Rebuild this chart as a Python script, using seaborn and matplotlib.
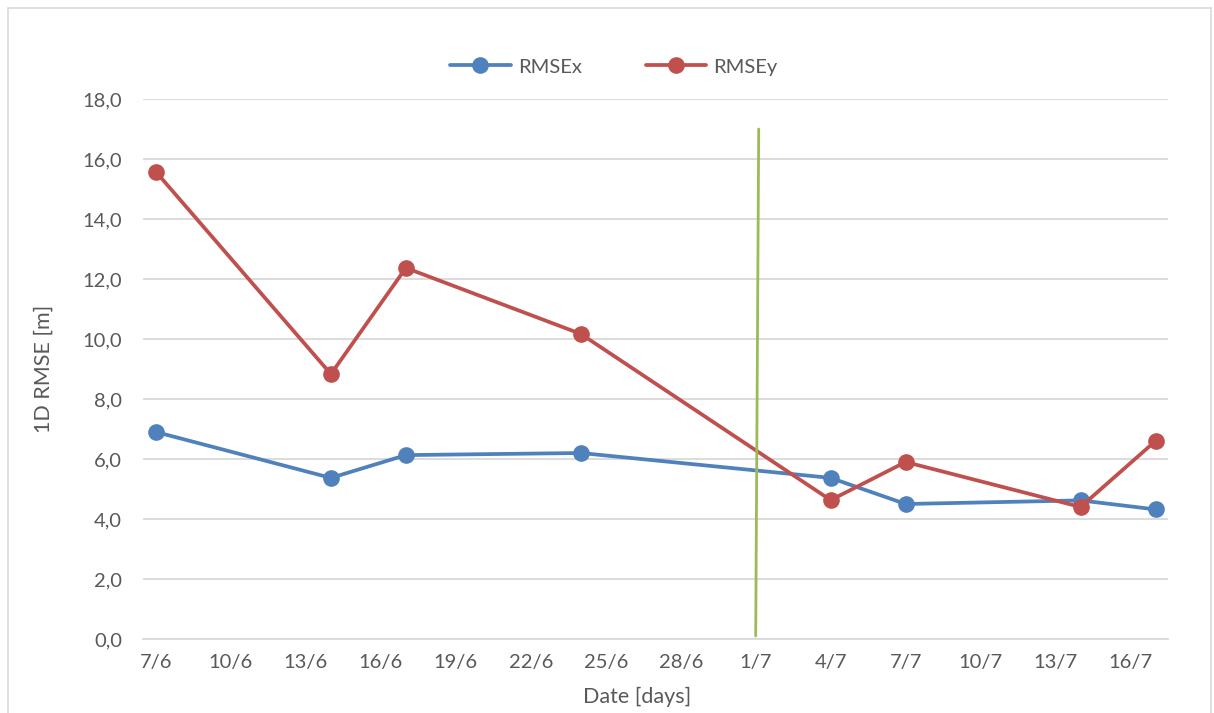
import numpy as np
import pandas as pd
import matplotlib
matplotlib.use("Agg")
import matplotlib.pyplot as plt
from matplotlib.ticker import FuncFormatter
from matplotlib.patches import Rectangle
import seaborn as sns

# Survey dates (day/month) and per-axis 1D RMSE in metres
dates = ["7/6", "14/6", "17/6", "24/6", "4/7", "7/7", "14/7", "17/7"]
rmse_x = [6.90, 5.37, 6.13, 6.20, 5.37, 4.50, 4.62, 4.32]
rmse_y = [15.57, 8.83, 12.37, 10.17, 4.63, 5.90, 4.40, 6.60]
series_names = ["RMSEx", "RMSEy"]
series_colors = ["#4F81BD", "#C0504D"]

# Vertical marker line separating the two periods
split_dates = ["1/7", "1/7"]
split_offsets_days = [0.0, 0.12]
split_values = [0.1, 17.0]

tick_start, tick_end, tick_step_days = "7/6", "16/7", 3
YEAR = 2018


def to_date(s):
    d, m = s.split("/")
    return pd.Timestamp(year=YEAR, month=int(m), day=int(d))


df = pd.DataFrame({
    "date": [to_date(d) for d in dates] * 2,
    "value": rmse_x + rmse_y,
    "series": [series_names[0]] * len(dates) + [series_names[1]] * len(dates),
})

sns.set_theme(style="white")
plt.rcParams["font.family"] = ["Lato", "DejaVu Sans"]
text_color = "#595959"
grid_color = "#D9D9D9"

fig = plt.figure(figsize=(12.14, 7.13), dpi=100)
ax = fig.add_axes([143 / 1214, 1 - 639 / 713, (1168 - 143) / 1214, (639 - 99) / 713])

# Chart frame
fig.patches.append(Rectangle((8 / 1214, -0.01), 1203 / 1214, 1 - 8 / 713 + 0.01,
                             transform=fig.transFigure, fill=False,
                             edgecolor=grid_color, linewidth=1.2))

sns.lineplot(data=df, x="date", y="value", hue="series", palette=series_colors,
             hue_order=series_names, marker="o", markersize=12, markeredgewidth=0,
             linewidth=2.7, ax=ax, zorder=3)

split_x = [to_date(d) + pd.Timedelta(days=o) for d, o in zip(split_dates, split_offsets_days)]
ax.plot(split_x, split_values, color="#9BBB59", linewidth=2.0, zorder=4)

# Axes limits and ticks
t0 = to_date(tick_start)
ax.set_xlim(t0 - pd.Timedelta(days=0.52), t0 + pd.Timedelta(days=40.5))
ax.set_ylim(0, 18)
ax.set_yticks(np.arange(0, 18.1, 2))
ax.yaxis.set_major_formatter(FuncFormatter(lambda v, p: f"{v:.1f}".replace(".", ",")))
ticks = pd.date_range(t0, to_date(tick_end), freq=f"{tick_step_days}D")
ax.set_xticks(ticks)
ax.set_xticklabels([f"{t.day}/{t.month}" for t in ticks])

ax.grid(axis="y", color=grid_color, linewidth=1.3, zorder=0)
ax.set_axisbelow(True)
for side in ["top", "right", "left"]:
    ax.spines[side].set_visible(False)
ax.spines["bottom"].set_color(grid_color)
ax.spines["bottom"].set_linewidth(1.3)
ax.tick_params(axis="y", length=0, pad=15, labelsize=14.5, labelcolor=text_color)
ax.tick_params(axis="x", length=0, pad=11, labelsize=14.5, labelcolor=text_color)

ax.set_ylabel("1D RMSE [m]", fontsize=15.5, color=text_color)
ax.yaxis.set_label_coords(-0.087, 0.5)
ax.set_xlabel("Date [days]", fontsize=15.5, color=text_color)
ax.xaxis.set_label_coords(0.482, -0.088)

handles, labels = ax.get_legend_handles_labels()
leg = ax.legend(handles, labels, loc="center", bbox_to_anchor=(614 / 1214, 1 - 67 / 713),
                bbox_transform=fig.transFigure, ncol=2, frameon=False, fontsize=14.5,
                handlelength=3.0, columnspacing=3.2, handletextpad=0.35)
for t in leg.get_texts():
    t.set_color(text_color)

fig.savefig("out.png", dpi=100)
